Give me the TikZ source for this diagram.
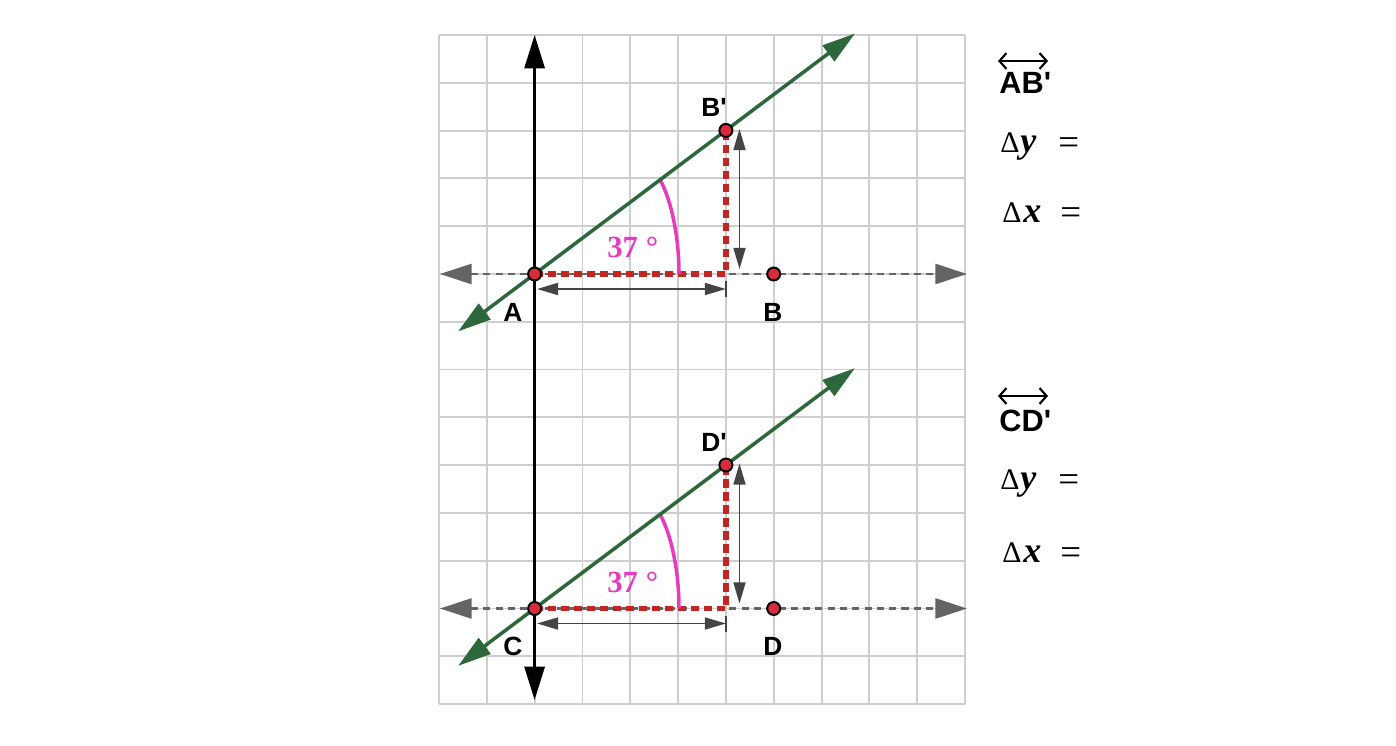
\documentclass[tikz,border=0pt]{standalone}
\usepackage{fontspec}
\setmainfont{Liberation Serif}
\setsansfont{Liberation Sans}
\usetikzlibrary{arrows.meta,calc}
\definecolor{gridc}{RGB}{206,206,206}
\definecolor{ptred}{RGB}{214,44,60}
\definecolor{dred}{RGB}{194,38,34}
\definecolor{gline}{RGB}{44,104,60}
\definecolor{mag}{RGB}{232,58,190}
\definecolor{grayl}{RGB}{100,100,100}
\definecolor{dimc}{RGB}{68,68,68}
\pgfdeclarelayer{bg}
\pgfsetlayers{bg,main}
\newcommand{\dsym}{{\fontsize{17}{19}\selectfont Δ}}
\tikzset{
  gridline/.style={draw=gridc, line width=1.1pt},
  pt/.style={circle, draw=black, fill=ptred, line width=1.1pt, inner sep=0pt, minimum size=7.4pt},
  axisv/.style={draw=black, line width=1.7pt, {Triangle[length=19pt,width=11.4pt]}-{Triangle[length=19pt,width=11.4pt]}},
  axish/.style={draw=grayl, line width=1.4pt, dash pattern=on 4pt off 3pt, {Triangle[length=18pt,width=11.4pt]}-{Triangle[length=18pt,width=11.4pt]}},
  greenline/.style={draw=gline, line width=2pt, {Triangle[length=19pt,width=11pt]}-{Triangle[length=19pt,width=11pt]}},
  reddash/.style={draw=dred, line width=3pt, line join=round, dash pattern=on 4.8pt off 2.6pt},
  dimline/.style={draw=dimc, line width=1.1pt},
  dimarrow/.style={dimline, {Triangle[length=12pt,width=6.8pt]}-{Triangle[length=12pt,width=6.8pt]}},
  anglearc/.style={draw=mag, line width=2pt},
  anglelab/.style={text=mag, font=\bfseries\fontsize{17.5}{20}\selectfont, inner sep=0pt, anchor=base west},
  ptlab/.style={font=\sffamily\bfseries\fontsize{15}{18}\selectfont, inner sep=0pt, anchor=base},
  linelab/.style={font=\sffamily\bfseries\fontsize{17.5}{20}\selectfont, inner sep=0pt, anchor=base west},
  overarrow/.style={draw=black, line width=1.2pt, {Straight Barb[length=4pt,width=9pt]}-{Straight Barb[length=4pt,width=9pt]}},
  deltalab/.style={font=\bfseries\itshape\fontsize{20.5}{23}\selectfont, inner sep=0pt, anchor=base west},
  eqlab/.style={font=\fontsize{21}{24}\selectfont, inner sep=0pt, anchor=base west}
}
\begin{document}
\begin{tikzpicture}[x=0.02cm, y=-0.02cm]
\useasboundingbox (0,0) rectangle (1396,746);
% points
\node[pt] (A) at (534.6,274) {};
\node[pt] (Bp) at (725.9,130.4) {};
\node[pt] (B) at (773.7,274) {};
\node[pt] (C) at (534.6,608.5) {};
\node[pt] (Dp) at (725.9,465) {};
\node[pt] (D) at (773.7,608.5) {};
% helper coordinates
\coordinate (E1) at (725.9,274);
\coordinate (E2) at (725.9,608.5);
\coordinate (VT) at (534.6,35);
\coordinate (VB) at (534.6,700);
\coordinate (HL1) at (440,274);
\coordinate (HR1) at (967,274);
\coordinate (HL2) at (440,608.5);
\coordinate (HR2) at (967,608.5);
\coordinate (G1a) at ($(A.center)!-0.4!(Bp.center)$);
\coordinate (G1b) at ($(A.center)!1.675!(Bp.center)$);
\coordinate (G2a) at ($(C.center)!-0.4!(Dp.center)$);
\coordinate (G2b) at ($(C.center)!1.675!(Dp.center)$);
\coordinate (DH1a) at (537,289);
\coordinate (DH1b) at (725.9,289);
\coordinate (T1a) at (725.9,281);
\coordinate (T1b) at (725.9,297);
\coordinate (DV1a) at (739.5,129);
\coordinate (DV1b) at (739.5,269);
\coordinate (DH2a) at (537,623.5);
\coordinate (DH2b) at (725.9,623.5);
\coordinate (T2a) at (725.9,615.5);
\coordinate (T2b) at (725.9,631.5);
\coordinate (DV2a) at (739.5,463.5);
\coordinate (DV2b) at (739.5,603.5);
\coordinate (R1a) at (679,274);
\coordinate (R1b) at ($(A.center)!0.656!(Bp.center)$);
\coordinate (R2a) at (679,608.5);
\coordinate (R2b) at ($(C.center)!0.656!(Dp.center)$);
\begin{pgfonlayer}{bg}
  \foreach \i in {0,...,11} \draw[gridline] (439+47.82*\i,35) -- (439+47.82*\i,704);
  \foreach \j in {0,...,14} \draw[gridline] (439,35+47.79*\j) -- (965,35+47.79*\j);
  \draw[axish] (HL1) -- (HR1);
  \draw[axish] (HL2) -- (HR2);
  \draw[reddash] (A.center) -- (E1) -- (Bp.center);
  \draw[reddash] (C.center) -- (E2) -- (Dp.center);
  \draw[anglearc] (R1a) .. controls +(0,-38) and +(11,20) .. (R1b);
  \draw[anglearc] (R2a) .. controls +(0,-38) and +(11,20) .. (R2b);
  \draw[greenline] (G1a) -- (G1b);
  \draw[greenline] (G2a) -- (G2b);
  \draw[axisv] (VB) -- (VT);
  \draw[dimarrow] (DH1a) -- (DH1b);
  \draw[dimline] (T1a) -- (T1b);
  \draw[dimarrow] (DV1a) -- (DV1b);
  \draw[dimarrow] (DH2a) -- (DH2b);
  \draw[dimline] (T2a) -- (T2b);
  \draw[dimarrow] (DV2a) -- (DV2b);
\end{pgfonlayer}
% angle labels
\node[anglelab] (ang1) at (607,258) {37 °};
\node[anglelab] (ang2) at (607,592.5) {37 °};
% point labels
\node[ptlab] (lA) at (513,322) {A};
\node[ptlab] (lB) at (773,322) {B};
\node[ptlab, anchor=base west] (lBp) at (701,117) {B\textquotesingle};
\node[ptlab] (lC) at (513,655) {C};
\node[ptlab] (lD) at (773,655) {D};
\node[ptlab, anchor=base west] (lDp) at (701,451.5) {D\textquotesingle};
% right-hand labels
\node[linelab] (ab) at (999,94) {AB\textquotesingle};
\coordinate (OA1) at (998,61);
\coordinate (OA2) at (1048,61);
\draw[overarrow] (OA1) -- (OA2);
\node[deltalab] (dy1) at (1000,153) {{\normalfont\dsym}\kern0.5pt y};
\node[eqlab] (eq1) at (1058,155) {=};
\node[deltalab] (dx1) at (1002,223) {{\normalfont\dsym}\kern1pt x};
\node[eqlab] (eq2) at (1060,225) {=};
\node[linelab] (cd) at (999,431) {CD\textquotesingle};
\coordinate (OC1) at (998,396);
\coordinate (OC2) at (1048,396);
\draw[overarrow] (OC1) -- (OC2);
\node[deltalab] (dy2) at (1000,489) {{\normalfont\dsym}\kern0.5pt y};
\node[eqlab] (eq3) at (1058,491) {=};
\node[deltalab] (dx2) at (1002,562) {{\normalfont\dsym}\kern1pt x};
\node[eqlab] (eq4) at (1060,564) {=};
\end{tikzpicture}
\end{document}
